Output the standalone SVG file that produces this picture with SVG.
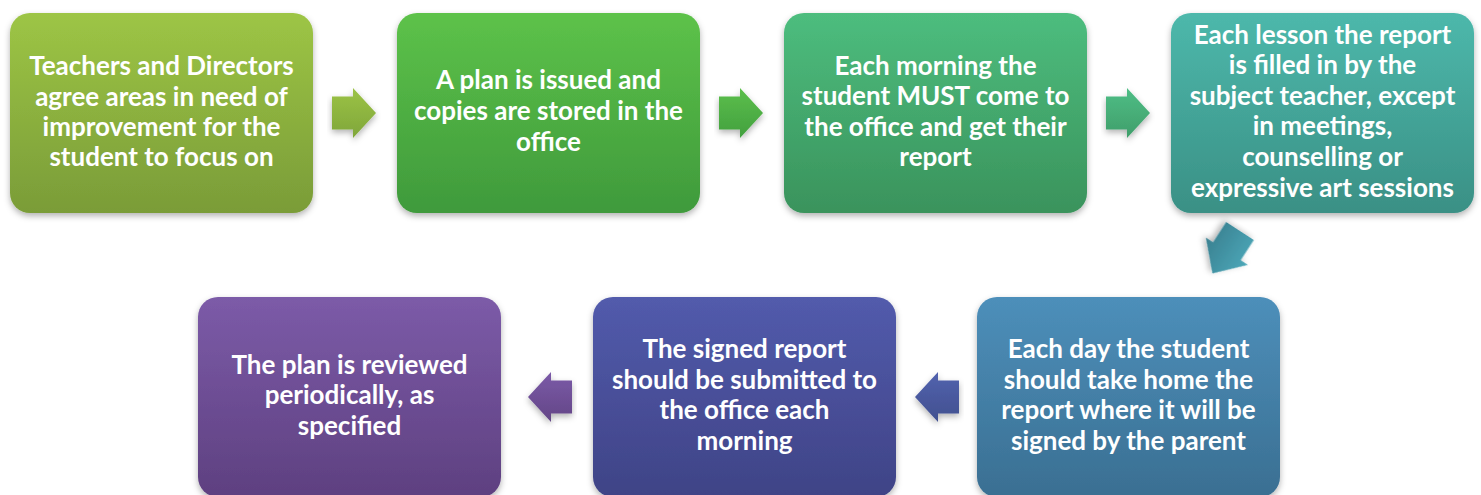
<svg xmlns="http://www.w3.org/2000/svg" width="1481" height="495" viewBox="0 0 1481 495">
<defs>
<linearGradient id="g1" x1="0" y1="0" x2="0" y2="1"><stop offset="0" stop-color="#9dc545"/><stop offset="1" stop-color="#7a9c38"/></linearGradient>
<linearGradient id="g2" x1="0" y1="0" x2="0" y2="1"><stop offset="0" stop-color="#5dc249"/><stop offset="1" stop-color="#3f9a3c"/></linearGradient>
<linearGradient id="g3" x1="0" y1="0" x2="0" y2="1"><stop offset="0" stop-color="#4dbd7e"/><stop offset="1" stop-color="#3a935c"/></linearGradient>
<linearGradient id="g4" x1="0" y1="0" x2="0" y2="1"><stop offset="0" stop-color="#4db8ab"/><stop offset="1" stop-color="#3a9085"/></linearGradient>
<linearGradient id="g5" x1="0" y1="0" x2="0" y2="1"><stop offset="0" stop-color="#4d8fba"/><stop offset="1" stop-color="#3a6f92"/></linearGradient>
<linearGradient id="g6" x1="0" y1="0" x2="0" y2="1"><stop offset="0" stop-color="#525bac"/><stop offset="1" stop-color="#3f4386"/></linearGradient>
<linearGradient id="g7" x1="0" y1="0" x2="0" y2="1"><stop offset="0" stop-color="#7c5ba8"/><stop offset="1" stop-color="#5e4080"/></linearGradient>
<linearGradient id="a1" x1="0" y1="0" x2="0" y2="1"><stop offset="0" stop-color="#9cc346"/><stop offset="1" stop-color="#7fa63a"/></linearGradient>
<linearGradient id="a2" x1="0" y1="0" x2="0" y2="1"><stop offset="0" stop-color="#5cbf4b"/><stop offset="1" stop-color="#42a03f"/></linearGradient>
<linearGradient id="a3" x1="0" y1="0" x2="0" y2="1"><stop offset="0" stop-color="#4fbe86"/><stop offset="1" stop-color="#3f9e6a"/></linearGradient>
<linearGradient id="a4" x1="0" y1="0" x2="0" y2="1"><stop offset="0" stop-color="#4ba7b8"/><stop offset="1" stop-color="#3a8090"/></linearGradient>
<linearGradient id="a5" x1="0" y1="0" x2="0" y2="1"><stop offset="0" stop-color="#5262ae"/><stop offset="1" stop-color="#41508f"/></linearGradient>
<linearGradient id="a6" x1="0" y1="0" x2="0" y2="1"><stop offset="0" stop-color="#7b5aa8"/><stop offset="1" stop-color="#634686"/></linearGradient>
<filter id="sh" x="-10%" y="-10%" width="120%" height="130%"><feDropShadow dx="0" dy="3" stdDeviation="3" flood-color="#000" flood-opacity="0.3"/></filter>
<path id="arr" d="M0,-16.5 H21 V-25 L44,0 L21,25 V16.5 H0 Z"/>
</defs>
<style>
.box{filter:url(#sh);}
.t{font-family:Lato,"Open Sans",sans-serif;font-weight:bold;font-size:26px;fill:#fff;text-anchor:middle;}
.ar{filter:url(#sh);}
</style>
<rect width="1481" height="495" fill="#fff"/>
<g id="connectors">
<use href="#arr" class="ar" fill="url(#a1)" transform="translate(332,113)"/>
<use href="#arr" class="ar" fill="url(#a2)" transform="translate(719,113)"/>
<use href="#arr" class="ar" fill="url(#a3)" transform="translate(1106,113)"/>
<use href="#arr" class="ar" fill="url(#a4)" transform="translate(1240,231) rotate(123) scale(1.15,1)"/>
<use href="#arr" class="ar" fill="url(#a5)" transform="translate(959,397) scale(-1,1)"/>
<use href="#arr" class="ar" fill="url(#a6)" transform="translate(572,397) scale(-1,1)"/>
</g>
<g id="n1"><rect class="box" x="10" y="13" width="303" height="200" rx="20" fill="url(#g1)"/>
<text class="t"><tspan x="161.5" y="75">Teachers and Directors</tspan><tspan x="161.5" y="106">agree areas in need of</tspan><tspan x="161.5" y="136">improvement for the</tspan><tspan x="161.5" y="166">student to focus on</tspan></text></g>
<g id="n2"><rect class="box" x="397" y="13" width="303" height="200" rx="20" fill="url(#g2)"/>
<text class="t"><tspan x="548.5" y="89">A plan is issued and</tspan><tspan x="548.5" y="120">copies are stored in the</tspan><tspan x="548.5" y="151">office</tspan></text></g>
<g id="n3"><rect class="box" x="784" y="13" width="303" height="200" rx="20" fill="url(#g3)"/>
<text class="t"><tspan x="935.5" y="75">Each morning the</tspan><tspan x="935.5" y="105">student MUST come to</tspan><tspan x="935.5" y="136">the office and get their</tspan><tspan x="935.5" y="166">report</tspan></text></g>
<g id="n4"><rect class="box" x="1171" y="13" width="303" height="200" rx="20" fill="url(#g4)"/>
<text class="t"><tspan x="1322.5" y="44">Each lesson the report</tspan><tspan x="1322.5" y="74">is filled in by the</tspan><tspan x="1322.5" y="105">subject teacher, except</tspan><tspan x="1322.5" y="135">in meetings,</tspan><tspan x="1322.5" y="166">counselling or</tspan><tspan x="1322.5" y="197">expressive art sessions</tspan></text></g>
<g id="n5"><rect class="box" x="977" y="297" width="303" height="200" rx="20" fill="url(#g5)"/>
<text class="t"><tspan x="1128.5" y="358">Each day the student</tspan><tspan x="1128.5" y="389">should take home the</tspan><tspan x="1128.5" y="419">report where it will be</tspan><tspan x="1128.5" y="450">signed by the parent</tspan></text></g>
<g id="n6"><rect class="box" x="593" y="297" width="303" height="200" rx="20" fill="url(#g6)"/>
<text class="t"><tspan x="744.5" y="358">The signed report</tspan><tspan x="744.5" y="389">should be submitted to</tspan><tspan x="744.5" y="419">the office each</tspan><tspan x="744.5" y="450">morning</tspan></text></g>
<g id="n7"><rect class="box" x="198" y="297" width="303" height="200" rx="20" fill="url(#g7)"/>
<text class="t"><tspan x="349.5" y="374">The plan is reviewed</tspan><tspan x="349.5" y="404">periodically, as</tspan><tspan x="349.5" y="435">specified</tspan></text></g>
</svg>
